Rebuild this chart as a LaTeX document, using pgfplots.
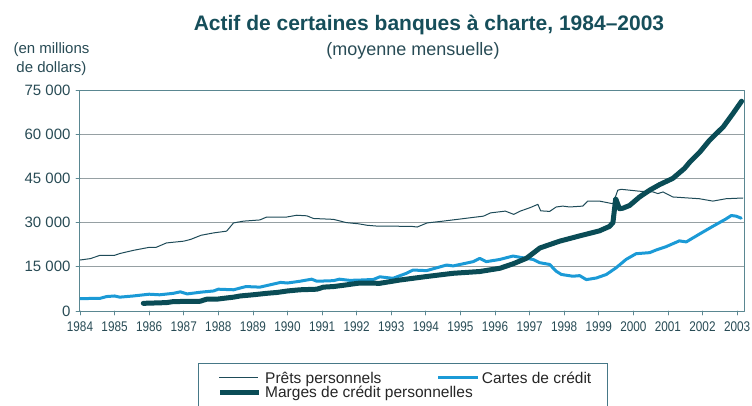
\documentclass[border=0pt]{standalone}
\usepackage{fontspec}
\setmainfont{Liberation Sans}
\newfontfamily\condfont[FakeStretch=0.84]{Liberation Sans}
\usepackage{pgfplots}
\pgfplotsset{compat=1.18}

\definecolor{titlecol}{RGB}{22,78,90}
\definecolor{labcol}{RGB}{40,75,85}
\definecolor{pretcol}{RGB}{30,75,88}
\definecolor{cartcol}{RGB}{27,154,214}
\definecolor{margcol}{RGB}{10,76,86}
\definecolor{gridcol}{RGB}{150,160,163}
\definecolor{axiscol}{RGB}{90,135,145}
\definecolor{legcol}{RGB}{70,120,135}

\tikzset{
  pret/.style={pretcol, line width=1pt},
  cart/.style={cartcol, line width=3pt},
  marg/.style={margcol, line width=5pt},
}

\begin{document}
\begin{tikzpicture}
\begin{axis}[
  width=664pt, height=221pt, scale only axis,
  xmin=1984, xmax=2003.2, ymin=0, ymax=75000,
  xtick={1984,1985,...,2003},
  xticklabels={1984,1985,1986,1987,1988,1989,1990,1991,1992,1993,1994,1995,1996,1997,1998,1999,2000,2001,2002,2003},
  ytick={0,15000,30000,45000,60000,75000},
  yticklabels={0,15 000,30 000,45 000,60 000,75 000},
  scaled y ticks=false,
  xtick pos=bottom, ytick pos=left,
  tick align=outside, major tick length=4pt,
  tick style={axiscol, line width=0.8pt},
  axis line style={axiscol, line width=1pt},
  ymajorgrids, grid style={gridcol, line width=1pt},
  xticklabel style={font=\condfont\fontsize{14}{16}\selectfont, text=labcol, yshift=-3pt},
  yticklabel style={font=\fontsize{15}{17}\selectfont, text=labcol, xshift=-2pt},
  line join=round, line cap=round,
]
% Prets personnels
\addplot[pret] coordinates {
(1984.0,17300)(1984.3,17780)(1984.58,18900)(1985.0,18900)(1985.15,19500)
(1985.55,20600)(1986.0,21600)(1986.2,21600)(1986.5,23100)(1987.0,23700)
(1987.2,24300)(1987.5,25700)(1987.86,26500)(1988.24,27100)(1988.44,29900)
(1988.73,30500)(1989.2,30900)(1989.4,31900)(1989.98,31900)(1990.27,32500)
(1990.56,32300)(1990.75,31400)(1991.33,31100)(1991.7,30000)(1992.05,29600)
(1992.3,29100)(1992.6,28800)(1993.0,28800)(1993.6,28700)(1993.75,28500)
(1994.04,29900)(1994.5,30500)(1995.05,31300)(1995.67,32200)(1995.87,33300)
(1996.3,33900)(1996.54,32800)(1996.73,33900)(1997.02,35100)(1997.24,36200)
(1997.32,34000)(1997.58,33800)(1997.77,35300)(1997.96,35600)(1998.16,35300)
(1998.54,35600)(1998.68,37300)(1999.02,37300)(1999.41,36400)(1999.55,41000)
(1999.65,41300)(2000.18,40650)(2000.57,40400)(2000.71,39850)(2000.86,40400)
(2001.14,38700)(2001.53,38400)(2001.91,38100)(2002.3,37300)(2002.68,38100)
(2003.17,38350)
};
% Cartes de credit
\addplot[cart] coordinates {
(1984.0,4200)(1984.58,4300)(1984.77,4900)(1985.0,5100)(1985.15,4700)
(1985.54,5100)(1986.0,5700)(1986.3,5500)(1986.7,6000)(1986.9,6500)
(1987.1,5800)(1987.5,6400)(1987.86,6800)(1988.0,7400)(1988.44,7200)
(1988.6,7700)(1988.8,8300)(1989.2,8100)(1989.5,8900)(1989.8,9700)
(1990.0,9500)(1990.36,10100)(1990.7,10800)(1990.85,10100)(1991.33,10300)
(1991.5,10800)(1991.8,10400)(1992.09,10500)(1992.48,10700)(1992.67,11600)
(1993.05,11100)(1993.44,12800)(1993.63,13900)(1994.02,13700)(1994.6,15600)
(1994.79,15300)(1995.37,16750)(1995.56,17850)(1995.75,16750)(1996.14,17500)
(1996.52,18650)(1996.91,17850)(1997.1,17500)(1997.29,16400)(1997.58,15800)
(1997.77,13500)(1997.92,12400)(1998.25,11800)(1998.45,12000)(1998.64,10650)
(1998.93,11200)(1999.22,12400)(1999.5,14650)(1999.79,17500)(2000.08,19450)
(2000.47,19800)(2000.66,20700)(2000.95,21850)(2001.33,23800)(2001.53,23450)
(2001.91,26100)(2002.3,28750)(2002.68,31250)(2002.83,32400)(2002.97,32200)
(2003.12,31500)
};
% Marges de credit personnelles
\addplot[marg] coordinates {
(1985.83,2600)(1986.5,2850)(1986.7,3200)(1987.47,3300)(1987.66,4000)
(1987.95,4000)(1988.15,4300)(1988.44,4700)(1988.63,5100)(1989.0,5500)
(1989.4,6000)(1989.7,6300)(1990.0,6800)(1990.36,7200)(1990.85,7400)
(1991.04,8100)(1991.33,8300)(1991.6,8700)(1991.9,9200)(1992.1,9500)
(1992.67,9400)(1993.24,10500)(1994.02,11700)(1994.79,12800)(1995.56,13400)
(1996.14,14500)(1996.52,16000)(1996.91,17900)(1997.1,19600)(1997.3,21400)
(1997.87,23700)(1998.45,25500)(1999.02,27200)(1999.31,28700)(1999.41,30000)
(1999.49,38100)(1999.6,34700)(1999.7,34900)(1999.89,35800)(2000.18,38700)
(2000.47,41000)(2000.76,42900)(2001.14,45000)(2001.48,48400)(2001.63,50500)
(2001.92,53900)(2002.2,57900)(2002.6,62500)(2002.88,67000)(2003.13,71200)
};
\end{axis}

% titles
\node[anchor=base, text=titlecol, font=\bfseries\fontsize{21}{24}\selectfont]
  at ([shift={(349pt,280pt)}]current axis.south west)
  {Actif de certaines banques à charte, 1984–2003};
\node[anchor=base, text=labcol, font=\fontsize{18}{20}\selectfont]
  at ([shift={(333pt,255pt)}]current axis.south west)
  {(moyenne mensuelle)};
\node[anchor=base, text=labcol, font=\fontsize{15}{17}\selectfont]
  at ([shift={(-28.5pt,257pt)}]current axis.south west) {(en millions};
\node[anchor=base, text=labcol, font=\fontsize{15}{17}\selectfont]
  at ([shift={(-28.5pt,238pt)}]current axis.south west) {de dollars)};

% legend
\begin{scope}[shift={(current axis.south west)}]
  \fill[white] (118.3pt,-52.3pt) rectangle (527.3pt,-115pt);
  \draw[legcol, line width=1.2pt] (118.3pt,-115pt) -- (118.3pt,-52.3pt)
    -- (527.3pt,-52.3pt) -- (527.3pt,-115pt);
  \draw[pret, line cap=butt] (139pt,-66.7pt) -- (178pt,-66.7pt);
  \node[anchor=base west, inner sep=0pt, font=\fontsize{15.5}{17}\selectfont, text=black!85]
    at (185pt,-72.3pt) {Prêts personnels};
  \draw[cart, line cap=butt] (358pt,-66.7pt) -- (398pt,-66.7pt);
  \node[anchor=base west, inner sep=0pt, font=\fontsize{15.5}{17}\selectfont, text=black!85]
    at (401.7pt,-72.3pt) {Cartes de crédit};
  \draw[marg, line cap=butt] (140pt,-81.3pt) -- (179pt,-81.3pt);
  \node[anchor=base west, inner sep=0pt, font=\fontsize{15.5}{17}\selectfont, text=black!85]
    at (185pt,-86.7pt) {Marges de crédit personnelles};
\end{scope}

\pgfresetboundingbox
\path[use as bounding box] (current axis.south west) ++(-80pt,-94pt) rectangle ++(752pt,405pt);
\end{tikzpicture}
\end{document}
